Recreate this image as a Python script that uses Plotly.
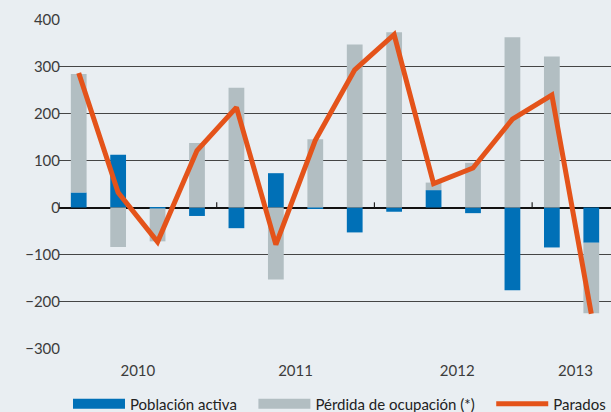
import plotly.graph_objects as go

quarters = ["2010 T1", "2010 T2", "2010 T3", "2010 T4",
            "2011 T1", "2011 T2", "2011 T3", "2011 T4",
            "2012 T1", "2012 T2", "2012 T3", "2012 T4",
            "2013 T1", "2013 T2"]
poblacion_activa = [32, 112, -2, -18, -44, 73, -3, -53, -9, 37, -12, -176, -85, -75]
perdida_ocupacion = [252, -84, -70, 137, 255, -153, 145, 347, 373, 16, 95, 362, 321, -150]
parados = [286, 32, -73, 121, 213, -79, 143, 293, 368, 51, 84, 188, 239, -226]
year_labels = ["2010", "2011", "2012", "2013"]
year_positions = [1.5, 5.5, 9.6, 12.6]
year_boundaries = [-0.5, 3.5, 7.5, 11.5]

BLUE = "#0070B7"
GRAY = "#B2BEC2"
ORANGE = "#E4531A"
BG = "#E9EEF2"
FONT = "Lato"

x = list(range(len(quarters)))

fig = go.Figure()
fig.add_trace(go.Bar(x=x, y=poblacion_activa, marker_color=BLUE, width=0.4,
                     marker_line_width=0, showlegend=False, name="Población activa"))
fig.add_trace(go.Bar(x=x, y=perdida_ocupacion, marker_color=GRAY, width=0.4,
                     marker_line_width=0, showlegend=False, name="Pérdida de ocupación (*)"))
fig.add_trace(go.Scatter(x=x, y=parados, mode="lines", line=dict(color=ORANGE, width=5),
                         showlegend=False, name="Parados"))

# legend proxies
fig.add_trace(go.Scatter(x=[None], y=[None], mode="lines", line=dict(color=BLUE, width=10),
                         name="Población activa\u00a0\u00a0\u00a0"))
fig.add_trace(go.Scatter(x=[None], y=[None], mode="lines", line=dict(color=GRAY, width=10),
                         name="Pérdida de ocupación (*)\u00a0\u00a0\u00a0"))
fig.add_trace(go.Scatter(x=[None], y=[None], mode="lines", line=dict(color=ORANGE, width=5),
                         name="Parados"))

for b in year_boundaries:
    fig.add_shape(type="line", xref="x", yref="y", x0=b, x1=b, y0=0, y1=11,
                  line=dict(color="#222222", width=1.2))

fig.update_layout(
    width=611, height=412,
    margin=dict(l=59, r=0, t=19, b=63),
    paper_bgcolor=BG, plot_bgcolor=BG,
    barmode="relative",
    font=dict(family=FONT, size=15, color="#3c3c3c"),
    showlegend=True,
    legend=dict(orientation="h", xref="container", x=68 / 611, xanchor="left",
                yref="container", y=8 / 412, yanchor="middle",
                bgcolor="rgba(0,0,0,0)", itemwidth=52, font=dict(size=15, color="#222222"),
                traceorder="normal"),
)
fig.update_xaxes(range=[-0.5, 13.5], tickmode="array", tickvals=year_positions,
                 ticktext=year_labels, ticks="", showgrid=False, zeroline=False,
                 showline=False, ticklabelstandoff=11, automargin=False)
fig.update_yaxes(range=[-301, 401], tickvals=[-300, -200, -100, 0, 100, 200, 300, 400],
                 showgrid=True, gridcolor="#454545", gridwidth=1.2,
                 zeroline=True, zerolinecolor="#111111", zerolinewidth=1.5,
                 ticks="", ticklen=0, ticklabelstandoff=-2, showline=False, automargin=False)

fig.write_html("out.html", config={"displayModeBar": False},
               post_script="document.body.style.margin='0';document.body.style.overflow='hidden';")
